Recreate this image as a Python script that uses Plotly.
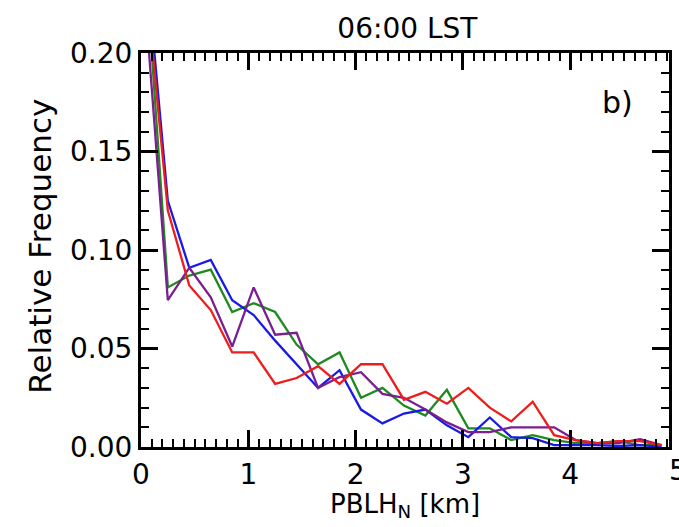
import plotly.graph_objects as go

# bin centres [km]
pblh_km = [0.05, 0.25, 0.45, 0.65, 0.85, 1.05, 1.25, 1.45, 1.65, 1.85,
           2.05, 2.25, 2.45, 2.65, 2.85, 3.05, 3.25, 3.45, 3.65, 3.85,
           4.05, 4.25, 4.45, 4.65, 4.85]

freq_green = [0.240, 0.081, 0.087, 0.090, 0.0685, 0.073, 0.0685, 0.052, 0.042, 0.048,
              0.025, 0.030, 0.021, 0.016, 0.029, 0.0095, 0.0095, 0.0035, 0.006, 0.0035,
              0.002, 0.002, 0.003, 0.001, 0.001]
freq_blue = [0.245, 0.125, 0.091, 0.095, 0.0745, 0.067, 0.054, 0.042, 0.030, 0.039,
             0.019, 0.012, 0.017, 0.019, 0.011, 0.005, 0.015, 0.005, 0.0045, 0.001,
             0.001, 0.001, 0.0005, 0.001, 0.0]
freq_purple = [0.218, 0.0745, 0.091, 0.076, 0.051, 0.081, 0.057, 0.058, 0.030, 0.0355,
               0.038, 0.027, 0.025, 0.019, 0.0125, 0.0076, 0.0076, 0.010, 0.010, 0.010,
               0.0035, 0.002, 0.002, 0.004, 0.001]
freq_red = [0.234, 0.120, 0.082, 0.0695, 0.048, 0.048, 0.032, 0.035, 0.041, 0.032,
            0.042, 0.042, 0.024, 0.028, 0.022, 0.030, 0.020, 0.013, 0.023, 0.006,
            0.0035, 0.002, 0.003, 0.003, 0.001]

x_ticks = [0, 1, 2, 3, 4]
y_ticks = [0.0, 0.05, 0.10, 0.15, 0.20]
y_tick_labels = ["0.00", "0.05", "0.10", "0.15", "0.20"]

FONT = "DejaVu Sans"

fig = go.Figure()
series = [
    (freq_green, "#1f8a1f"),
    (freq_blue, "#1a1ae6"),
    (freq_purple, "#7a1f8f"),
    (freq_red, "#ee1c1c"),
]
for ys, col in series:
    fig.add_trace(go.Scatter(x=pblh_km, y=ys, mode="lines",
                             line=dict(color=col, width=2.3),
                             showlegend=False, cliponaxis=True))

axis_common = dict(showline=True, linecolor="black", linewidth=3,
                   mirror="allticks", ticks="inside", tickcolor="black",
                   showgrid=False, zeroline=False,
                   tickfont=dict(family=FONT, size=28, color="black"))

fig.update_xaxes(range=[0, 4.92], tickvals=x_ticks, ticklen=17, tickwidth=3,
                 minor=dict(dtick=0.1, ticklen=8, tickwidth=2, ticks="inside",
                            tickcolor="black", showgrid=False),
                 **axis_common)
fig.update_yaxes(range=[0, 0.2], tickvals=y_ticks, ticktext=y_tick_labels,
                 ticklen=17, tickwidth=3,
                 minor=dict(dtick=0.01, ticklen=8, tickwidth=2, ticks="inside",
                            tickcolor="black", showgrid=False),
                 **axis_common)

fig.update_layout(
    width=679, height=527,
    margin=dict(l=141, r=7, t=53, b=80),
    paper_bgcolor="white", plot_bgcolor="white",
    title=dict(text="06:00 LST", x=0.6, xanchor="center", y=0.947, yanchor="middle",
               font=dict(family=FONT, size=28, color="black")),
    annotations=[
        dict(text="b)", xref="paper", yref="paper", x=0.902, y=0.875,
             xanchor="center", yanchor="middle",
             showarrow=False, font=dict(family=FONT, size=30, color="black")),
        dict(text="Relative Frequency", xref="paper", yref="paper", x=-0.192, y=0.51,
             xanchor="center", yanchor="middle",
             textangle=-90, showarrow=False,
             font=dict(family=FONT, size=31, color="black")),
        dict(text="PBLH<sub>N</sub> [km]", xref="paper", yref="paper", x=0.5, y=-0.148,
             xanchor="center", yanchor="middle",
             showarrow=False,
             font=dict(family=FONT, size=26, color="black")),
        dict(text="5", xref="paper", yref="paper", x=1.017, y=-0.012,
             xanchor="center", yanchor="top",
             showarrow=False, font=dict(family=FONT, size=28, color="black")),
    ],
)

fig.write_html("out.html")
